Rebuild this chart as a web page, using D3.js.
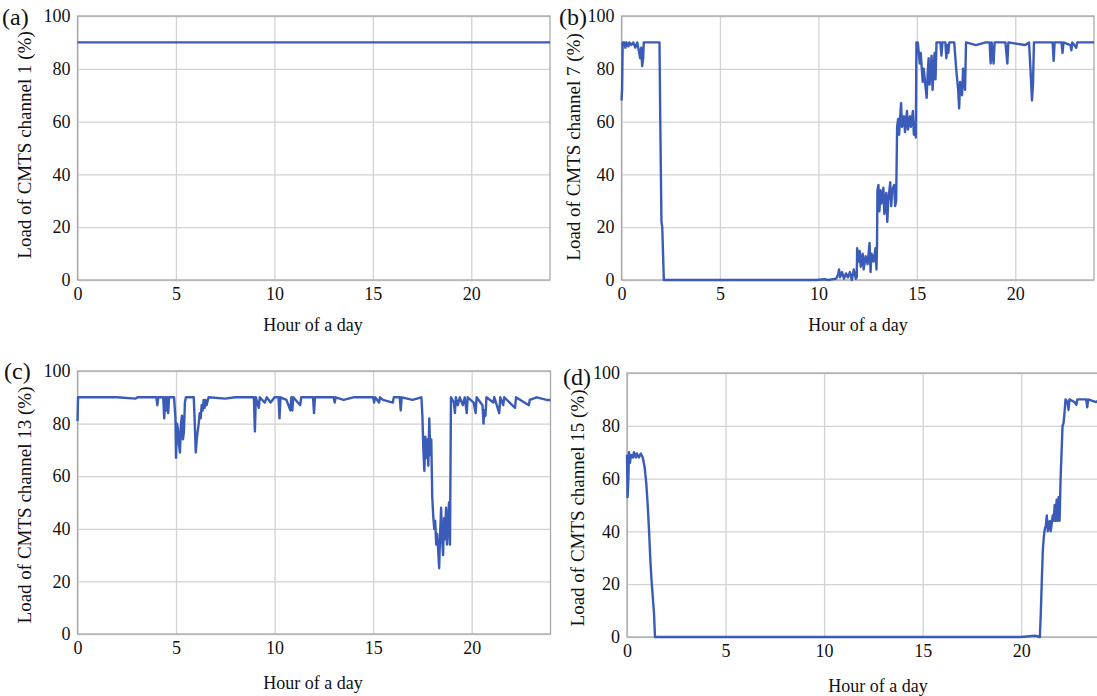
<!DOCTYPE html>
<html>
<head>
<meta charset="utf-8">
<script src="https://cdn.jsdelivr.net/npm/d3@7"></script>
<style>
  html, body { margin: 0; padding: 0; background: #fff; }
  svg { display: block; }
  text { font-family: "Liberation Serif", "Times New Roman", serif; fill: #111; }
</style>
</head>
<body>
<svg id="chart" width="1097" height="696"></svg>
<script>
// ---------------- DATA ----------------
const hourTicks = [0, 5, 10, 15, 20];
const loadTicks = [0, 20, 40, 60, 80, 100];
const panelLetters = ["(a)", "(b)", "(c)", "(d)"];
const channelNames = ["channel 1", "channel 7", "channel 13", "channel 15"];
const xTitle = "Hour of a day";

// [hour, load %]
const ch1 = [[0, 90], [6, 90], [12, 90], [18, 90], [24, 90]];

const ch7 = [[0.00,68],[0.03,72],[0.06,90],[0.15,90],[0.2,88],[0.25,90],[0.35,88.5],[0.4,90],[0.5,89],[0.6,90],[0.7,88],[0.8,90],[0.9,86],[0.95,84],[1.0,88],[1.05,81],[1.1,84],[1.13,90],[1.3,90],[1.5,90],[1.7,90],[1.93,90],[1.97,60],[2.03,22],[2.07,20],[2.15,0],[4,0],[8,0],[9.9,0],[10.3,0.3],[10.5,0],[10.9,0.5],[11.0,2],[11.05,4],[11.1,1],[11.2,3],[11.3,0.5],[11.4,2.5],[11.5,1],[11.6,3],[11.7,0],[11.8,4],[11.9,0.5],[11.95,1],[11.97,12],[12.05,7],[12.1,11],[12.15,5],[12.25,10],[12.3,4],[12.4,9],[12.5,6],[12.6,14],[12.65,3],[12.7,10],[12.8,7],[12.9,12],[12.95,4],[12.98,14],[13.0,34],[13.05,36],[13.1,26],[13.15,34],[13.2,29],[13.3,35],[13.35,25],[13.45,33],[13.5,22],[13.55,30],[13.65,37],[13.7,28],[13.75,34],[13.85,36],[13.9,28],[13.95,30],[14.0,58],[14.05,61],[14.1,55],[14.2,67],[14.25,58],[14.35,62],[14.4,56],[14.5,64],[14.55,57],[14.65,62],[14.7,58],[14.8,64],[14.85,55],[14.92,60],[14.95,54],[14.98,90],[15.05,90],[15.15,82],[15.2,86],[15.3,75],[15.35,80],[15.5,69],[15.55,78],[15.6,84],[15.65,74],[15.75,85],[15.8,72],[15.9,86],[15.95,76],[16.0,90],[16.2,90],[16.25,85],[16.3,90],[16.45,90],[16.5,84],[16.55,89],[16.6,86],[16.65,90],[16.9,90],[17.0,80],[17.1,72],[17.15,65],[17.2,75],[17.3,70],[17.35,80],[17.45,72],[17.5,90],[18.0,89],[18.5,90],[18.7,90],[18.75,82],[18.8,90],[18.9,82],[18.95,90],[19.5,90],[19.6,82],[19.65,90],[20.5,89],[20.7,90],[20.8,76],[20.85,68],[20.9,74],[20.95,90],[21.5,90],[21.9,90],[21.95,83],[22.0,90],[22.35,90],[22.4,86],[22.45,90],[22.8,89],[22.85,87],[22.9,90],[23.1,88],[23.15,90],[24,90]];

const ch13 = [[0,81],[0.03,90],[1,90],[2,90],[2.95,89.5],[3.05,90],[4.0,90],[4.05,87],[4.1,90],[4.35,90],[4.4,82],[4.45,90],[4.5,85],[4.55,90],[4.6,84],[4.65,90],[4.9,90],[4.97,82],[5.0,67],[5.05,80],[5.1,78],[5.15,72],[5.2,69],[5.25,80],[5.3,83],[5.35,74],[5.4,77],[5.45,88],[5.5,90],[5.9,90],[5.95,80],[6.0,69],[6.05,74],[6.15,80],[6.2,84],[6.25,82],[6.3,87],[6.35,85],[6.4,89],[6.45,86],[6.5,89],[6.55,87],[6.65,90],[7.5,89.5],[8,90],[8.95,90],[9.0,77],[9.05,90],[9.2,86],[9.25,90],[9.5,88],[9.6,90],[9.8,88],[10,90],[10.2,90],[10.25,82],[10.3,90],[10.6,89],[10.8,85],[10.85,90],[10.9,85],[10.95,90],[11.3,87],[11.35,90],[11.95,90],[12.0,84],[12.05,90],[13,90],[13.05,88],[13.1,90],[13.5,89],[14,90],[15,90],[15.05,88],[15.1,90],[15.3,88],[15.35,90],[15.5,89],[16.0,88],[16.05,90],[16.35,90],[16.4,85],[16.45,90],[17.0,89],[17.45,90],[17.5,83],[17.55,70],[17.6,62],[17.65,75],[17.7,67],[17.75,74],[17.8,64],[17.85,82],[17.9,68],[17.95,74],[18.0,52],[18.05,45],[18.1,40],[18.15,43],[18.2,34],[18.25,38],[18.3,32],[18.35,25],[18.4,38],[18.45,48],[18.5,36],[18.55,30],[18.6,44],[18.65,36],[18.7,48],[18.75,34],[18.8,42],[18.85,50],[18.9,34],[18.95,90],[19.1,88],[19.15,84],[19.2,90],[19.3,87],[19.4,90],[19.55,87],[19.65,90],[19.75,84],[19.8,90],[20.1,88],[20.2,84],[20.25,90],[20.55,87],[20.6,80],[20.65,85],[20.7,83],[20.75,90],[21.1,88],[21.15,90],[21.4,84],[21.45,90],[21.6,87],[21.65,90],[22.2,86],[22.25,90],[22.9,87],[22.95,89],[23.3,90],[23.8,89],[24,89]];

const ch15 = [[0,69],[0.03,53],[0.07,60],[0.1,70],[0.15,66],[0.2,69],[0.3,68],[0.35,70],[0.45,68],[0.5,69.5],[0.6,68],[0.7,69.5],[0.8,68],[0.9,64],[0.98,58],[1.05,50],[1.12,40],[1.18,30],[1.24,22],[1.3,16],[1.37,9],[1.42,0],[5,0],[10,0],[15,0],[20,0],[20.7,0.5],[20.95,0],[21.0,10],[21.05,22],[21.1,33],[21.15,38],[21.2,41],[21.25,42],[21.3,46],[21.35,40],[21.45,44],[21.5,40],[21.6,46],[21.65,44],[21.7,50],[21.75,44],[21.8,52],[21.85,44],[21.9,53],[21.95,44],[22.0,60],[22.05,70],[22.1,80],[22.15,81],[22.2,85],[22.25,90],[22.35,89],[22.4,86],[22.45,90],[22.7,89],[22.8,88],[22.85,90],[23.3,90],[23.35,87],[23.4,90],[23.8,89],[24,90]];

const seriesList = [ch1, ch7, ch13, ch15];

// ---------------- LAYOUT ----------------
const panels = [
  { x0: 77.5, x1: 550,  y0: 16,  y1: 280, letter: [2, 25],    ylab: [31, 145],  xlab: [313, 331] },
  { x0: 621.5, x1: 1094, y0: 16, y1: 280, letter: [559, 25],  ylab: [580, 147], xlab: [858, 331] },
  { x0: 77.5, x1: 550.5, y0: 371, y1: 634, letter: [4, 379],  ylab: [31, 505],  xlab: [313, 689] },
  { x0: 627,  x1: 1100, y0: 373, y1: 637, letter: [563, 385], ylab: [584, 508], xlab: [878, 692] }
];

const svg = d3.select("#chart");
const lineColor = "#3a5cb8";

panels.forEach((p, i) => {
  const x = d3.scaleLinear().domain([0, 24]).range([p.x0, p.x1]);
  const y = d3.scaleLinear().domain([0, 100]).range([p.y1, p.y0]);
  const g = svg.append("g");

  // grid
  const gx = g.append("g").attr("transform", `translate(0,${p.y1})`)
    .call(d3.axisBottom(x).tickValues(hourTicks).tickSize(-(p.y1 - p.y0)).tickFormat(""));
  const gy = g.append("g").attr("transform", `translate(${p.x0},0)`)
    .call(d3.axisLeft(y).tickValues(loadTicks).tickSize(-(p.x1 - p.x0)).tickFormat(""));
  [gx, gy].forEach(a => {
    a.select(".domain").remove();
    a.selectAll("line").attr("stroke", "#d2d2d2").attr("stroke-width", 1.3);
  });

  // border
  g.append("rect").attr("x", p.x0).attr("y", p.y0)
    .attr("width", p.x1 - p.x0).attr("height", p.y1 - p.y0)
    .attr("fill", "none").attr("stroke", "#a9a9a9").attr("stroke-width", 1.3);

  // tick labels
  const ax = g.append("g").attr("transform", `translate(0,${p.y1})`)
    .call(d3.axisBottom(x).tickValues(hourTicks).tickSize(0).tickPadding(7).tickFormat(d3.format("d")));
  const ay = g.append("g").attr("transform", `translate(${p.x0},0)`)
    .call(d3.axisLeft(y).tickValues(loadTicks).tickSize(0).tickPadding(7).tickFormat(d3.format("d")));
  [ax, ay].forEach(a => {
    a.select(".domain").remove();
    a.selectAll("text").attr("font-family", "Liberation Serif, serif").attr("font-size", 18).attr("fill", "#111");
  });

  // data line
  const line = d3.line().x(d => x(d[0])).y(d => y(d[1]));
  g.append("path").datum(seriesList[i])
    .attr("d", line).attr("fill", "none")
    .attr("stroke", lineColor).attr("stroke-width", 2.4)
    .attr("stroke-linejoin", "round");

  // axis titles
  g.append("text")
    .attr("x", p.xlab[0]).attr("y", p.xlab[1]).attr("text-anchor", "middle")
    .attr("font-size", 18).text(xTitle);
  g.append("text")
    .attr("transform", `translate(${p.ylab[0]},${p.ylab[1]}) rotate(-90)`)
    .attr("text-anchor", "middle").attr("font-size", 19)
    .text(`Load of CMTS ${channelNames[i]} (%)`);

  // panel letter
  g.append("text").attr("x", p.letter[0]).attr("y", p.letter[1])
    .attr("font-size", 24).text(panelLetters[i]);
});
</script>
</body>
</html>
